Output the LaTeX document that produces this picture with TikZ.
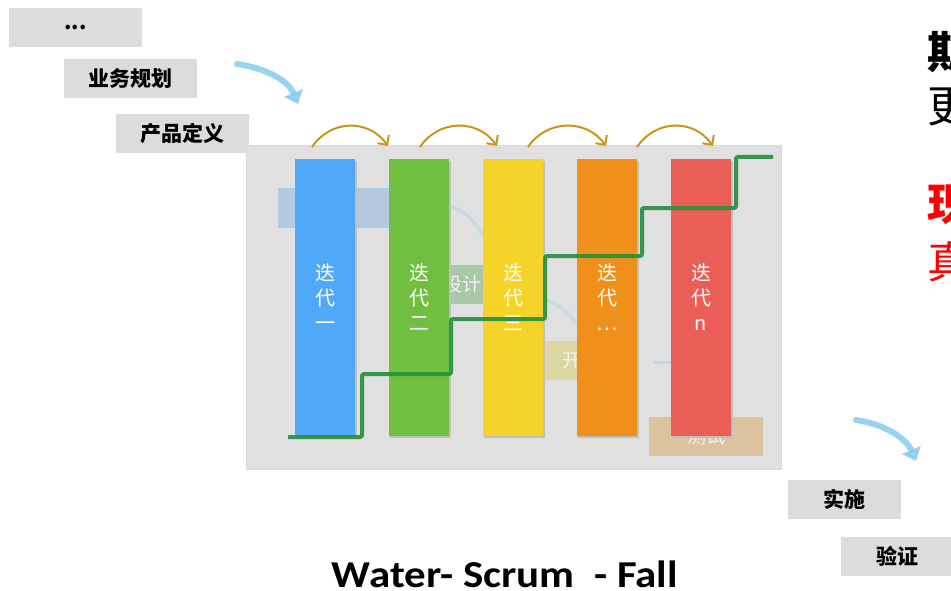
\documentclass[tikz,border=0pt]{standalone}
\usepackage{fontspec}
\setmainfont{Carlito}
\newfontfamily\cjk{Noto Sans CJK SC}
\usetikzlibrary{arrows.meta}
\definecolor{boxgray}{HTML}{DCDCDE}
\definecolor{panelgray}{HTML}{E0E0E0}
\definecolor{cblue}{HTML}{4FA8F8}
\definecolor{cgreen}{HTML}{70BF41}
\definecolor{cyellow}{HTML}{F5D328}
\definecolor{corange}{HTML}{F0901A}
\definecolor{cred}{HTML}{EB5D57}
\definecolor{gold}{HTML}{C9961A}
\definecolor{stepgreen}{HTML}{23903A}
\definecolor{brush}{HTML}{86CDEE}
\definecolor{fblue}{HTML}{B3C9DE}
\definecolor{fgreen}{HTML}{A8C8A8}
\definecolor{fyellow}{HTML}{DCD6A3}
\definecolor{ftan}{HTML}{DCC3A0}
\tikzset{
  lbl/.style={fill=boxgray, minimum width=133pt, minimum height=39pt, inner sep=0pt,
    font=\cjk\bfseries\fontsize{21}{21}\selectfont},
  col/.style={minimum width=60pt, minimum height=277pt, inner sep=0pt, text=white,
    align=center, font=\cjk\fontsize{20}{25}\selectfont},
  faint/.style={minimum width=112pt, minimum height=39pt, inner sep=0pt, text=white!90!gray,
    font=\cjk\fontsize{19}{19}\selectfont},
  goldarc/.style={draw=gold, line width=2pt, -{Straight Barb[length=7pt,width=14pt]}},
  brusharr/.style={draw=brush, line width=6pt, line cap=round, -{Triangle[length=12pt,width=20pt]}},
  big/.style={font=\cjk\fontsize{44}{44}\selectfont, inner sep=0pt, anchor=west},
}
\begin{document}
\begin{tikzpicture}[x=1pt,y=-1pt]
\useasboundingbox (0,0) rectangle (951,591);
\clip (0,0) rectangle (951,591);
% side labels
\node[lbl] (l0) at (75.5,27.5) {\raisebox{-4pt}{...}};
\node[lbl] (l1) at (130.5,78.5) {业务规划};
\node[lbl] (l2) at (182.5,133.5) {产品定义};
\node[lbl, minimum width=113pt] (l3) at (844.5,499.5) {实施};
\node[lbl, minimum width=112pt] (l4) at (897,556.5) {验证};
% brush arrows
\coordinate (b1s) at (237,64);
\coordinate (b1e) at (298,104);
\draw[brusharr, opacity=0.85] (b1s) .. controls (265,68) and (288,80) .. (b1e);
\coordinate (b2s) at (856,420);
\coordinate (b2e) at (916,461);
\draw[brusharr, opacity=0.85] (b2s) .. controls (884,424) and (906,438) .. (b2e);
% panel
\node[fill=panelgray, draw=black!15, line width=1pt, minimum width=535pt, minimum height=323pt, inner sep=0pt] (panel) at (513.5,307.5) {};
% faint background steps
\node[faint, fill=fblue] (f1) at (334,208) {};
\node[faint, fill=fgreen] (f2) at (462,284) {设计};
\node[faint, fill=fyellow] (f3) at (581,360.5) {开发};
\node[faint, fill=ftan, minimum width=114pt] (f4) at (706,436.5) {测试};
\draw[brush, line width=3pt, opacity=0.3, line cap=round] (445,205) .. controls (462,208) and (475,220) .. (482,235);
\draw[brush, line width=3pt, opacity=0.3, line cap=round] (546,300) .. controls (558,304) and (568,312) .. (575,322);
\draw[brush, line width=3pt, opacity=0.35, line cap=round] (654,362) -- (670,362);
% columns with shadow
\foreach \x in {325,419,513,607,701}{
  \fill[black!25] (\x-29,161) rectangle (\x+32,438);
}
\node[col, fill=cblue] (c1) at (325,297.5) {迭\\代\\一};
\node[col, fill=cgreen] (c2) at (419,297.5) {迭\\代\\二};
\node[col, fill=cyellow] (c3) at (513,297.5) {迭\\代\\三};
\node[col, fill=corange] (c4) at (607,297.5) {迭\\代\\…};
\node[col, fill=cred] (c5) at (701,297.5) {迭\\代\\n};
% green step line
\coordinate (g0) at (288,437);
\coordinate (g1) at (773,157);
\draw[stepgreen, line width=4pt, rounded corners=2pt, opacity=0.9]
  (g0) -- (362,437) -- (362,374) -- (451,374) -- (451,319) -- (545,319) -- (545,256)
  -- (642,256) -- (642,208) -- (736,208) -- (736,157) -- (g1);
% gold arcs
\coordinate (a1) at (312,147); \coordinate (a2) at (388,146);
\coordinate (a3) at (420,147); \coordinate (a4) at (497,146);
\coordinate (a5) at (528,147); \coordinate (a6) at (606,146);
\coordinate (a7) at (637,147); \coordinate (a8) at (713,146);
\draw[goldarc] (a1) .. controls (330,120) and (368,118) .. (a2);
\draw[goldarc] (a3) .. controls (438,120) and (477,118) .. (a4);
\draw[goldarc] (a5) .. controls (546,120) and (586,118) .. (a6);
\draw[goldarc] (a7) .. controls (655,120) and (693,118) .. (a8);
% right text (cut off by the right edge, as in the reference)
\node[big, font=\cjk\bfseries\fontsize{44}{44}\selectfont] (t1) at (927,52) {期};
\node[big] (t2) at (927,107) {更};
\node[big, text=red, font=\cjk\bfseries\fontsize{44}{44}\selectfont] (t3) at (927,205) {现};
\node[big, text=red] (t4) at (927,262) {真};
% title
\node[font=\bfseries\fontsize{38}{38}\selectfont, inner sep=0pt] (title) at (505,574) {\scalebox{1.13}[1]{Water- Scrum\ \ - Fall}};
\end{tikzpicture}
\end{document}
